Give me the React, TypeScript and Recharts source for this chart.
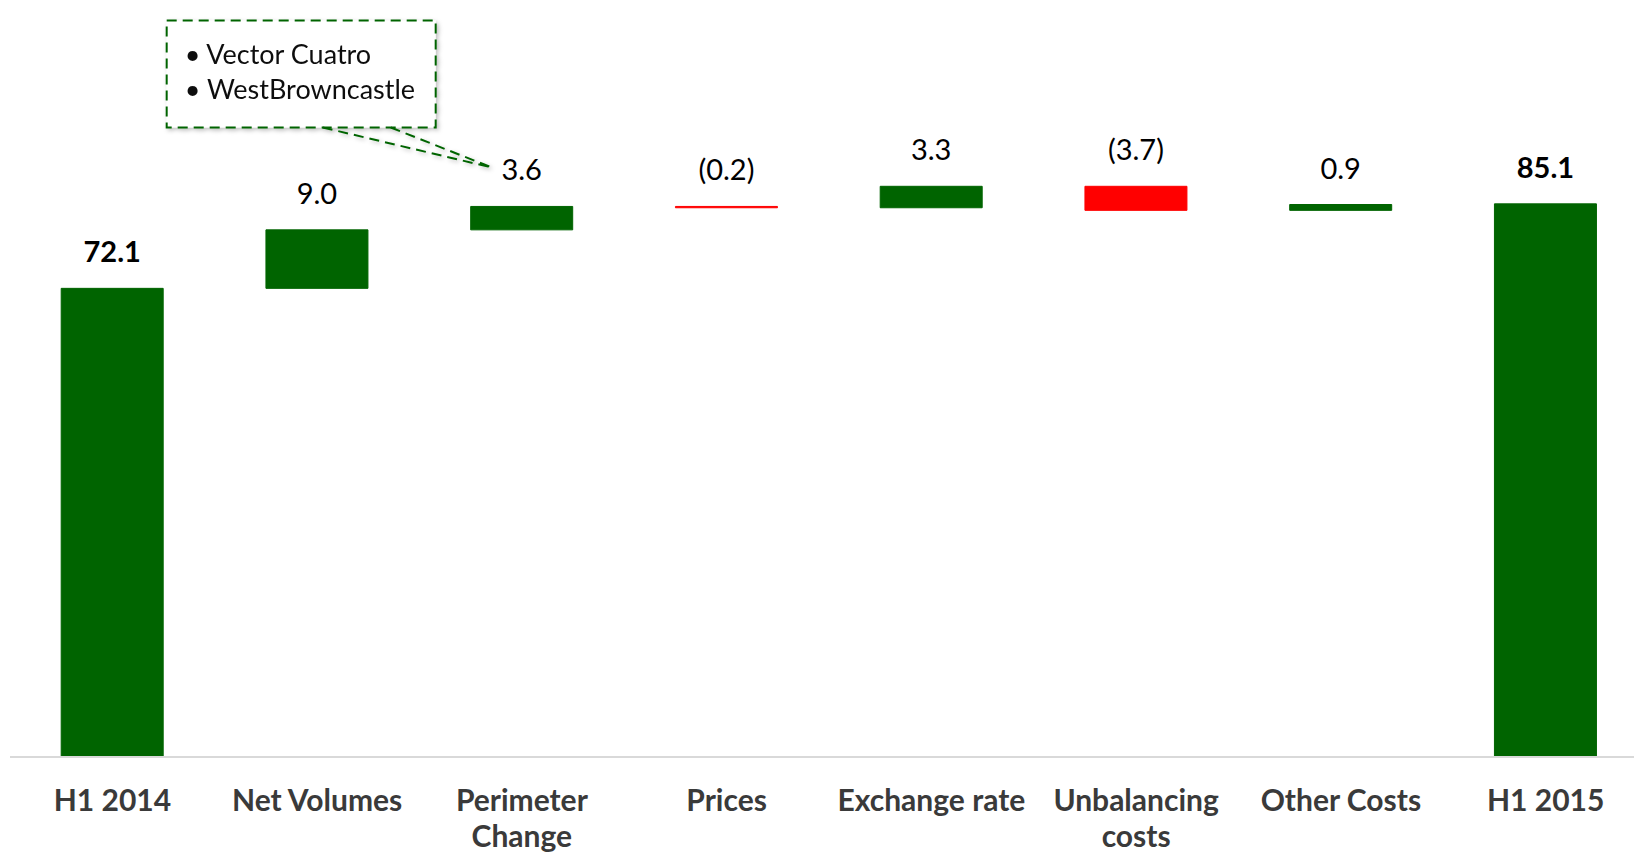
import React from 'react';
import { BarChart, Bar, XAxis, YAxis, Cell, LabelList } from 'recharts';

const categories = ['H1 2014', 'Net Volumes', 'Perimeter Change', 'Prices', 'Exchange rate', 'Unbalancing costs', 'Other Costs', 'H1 2015'];
const changes = [72.1, 9.0, 3.6, -0.2, 3.3, -3.7, 0.9, 85.1];
const isTotal = [true, false, false, false, false, false, false, true];
const valueLabels = ['72.1', '9.0', '3.6', '(0.2)', '3.3', '(3.7)', '0.9', '85.1'];
const tickLabels = [
  ['H1 2014'],
  ['Net Volumes'],
  ['Perimeter', 'Change'],
  ['Prices'],
  ['Exchange rate'],
  ['Unbalancing', 'costs'],
  ['Other Costs'],
  ['H1 2015'],
];
const calloutItems = ['Vector Cuatro', 'WestBrowncastle'];
const calloutIndex = 2;

const GREEN = '#006400';
const RED = '#ff0000';
const FONT = 'Lato, "Open Sans", sans-serif';

// running totals -> invisible base + visible delta
let running = 0;
const data = categories.map((name, i) => {
  let base: number;
  let delta: number;
  if (isTotal[i]) {
    base = 0;
    delta = changes[i];
    running = changes[i];
  } else {
    const next = running + changes[i];
    base = Math.min(running, next);
    delta = Math.abs(changes[i]);
    running = next;
  }
  return { name, base, delta, label: valueLabels[i], color: changes[i] < 0 ? RED : GREEN };
});

function CategoryTick(props: any) {
  const { x, y, payload } = props;
  const lines = tickLabels[categories.indexOf(payload.value)] || [payload.value];
  return (
    <text x={x} y={y} textAnchor="middle" fill="#3a3a3a" fontFamily={FONT} fontWeight={700} fontSize={30}>
      {lines.map((l: string, k: number) => (
        <tspan key={k} x={x} dy={k === 0 ? 52 : 36}>{l}</tspan>
      ))}
    </text>
  );
}

function Callout({ cx, cy }: { cx: number; cy: number }) {
  // box and pointer placed relative to the label it points at
  const bx = cx - 355;
  const by = cy - 150;
  const bw = 269;
  const bh = 107;
  const tipX = cx - 30;
  const tipY = cy - 3;
  return (
    <g filter="url(#softShadow)">
      <rect x={bx} y={by} width={bw} height={bh} fill="#fff" stroke={GREEN} strokeWidth={2} strokeDasharray="10 6" />
      <line x1={cx - 199} y1={by + bh} x2={tipX} y2={tipY} stroke={GREEN} strokeWidth={2} strokeDasharray="10 6" />
      <line x1={cx - 131} y1={by + bh} x2={tipX} y2={tipY} stroke={GREEN} strokeWidth={2} strokeDasharray="10 6" />
      {calloutItems.map((t, k) => (
        <text key={t} x={bx + 18} y={by + 44 + k * 35} fontFamily={FONT} fontSize={27} fill="#111">
          {'\u2022 ' + t}
        </text>
      ))}
    </g>
  );
}

function ValueLabel(props: any) {
  const { x, y, width, index } = props;
  const cx = x + width / 2;
  const cy = y - 36;
  return (
    <g>
      {index === calloutIndex && <Callout cx={cx} cy={cy} />}
      <text
        x={cx}
        y={cy + 10}
        textAnchor="middle"
        fontFamily={FONT}
        fontSize={29}
        fontWeight={isTotal[index] ? 700 : 400}
        fill="#000"
      >
        {valueLabels[index]}
      </text>
    </g>
  );
}

export default function App() {
  return (
    <div style={{ position: 'fixed', left: 0, top: 0, width: 1634, height: 853, overflow: 'hidden', background: '#fff' }}>
      <BarChart width={1660} height={853} data={data} margin={{ top: 107, right: 12, left: 10, bottom: 66 }} barCategoryGap="25%">
        <defs>
          <filter id="softShadow" x="-10%" y="-10%" width="130%" height="140%">
            <feDropShadow dx={2} dy={2} stdDeviation={2} floodColor="#000" floodOpacity={0.25} />
          </filter>
        </defs>
        <XAxis
          dataKey="name"
          interval={0}
          tickSize={0}
          tickLine={false}
          axisLine={{ stroke: '#d9d9d9', strokeWidth: 2 }}
          tick={<CategoryTick />}
        />
        <YAxis hide domain={[0, 100]} />
        <Bar dataKey="base" stackId="w" fill="transparent" isAnimationActive={false} />
        <Bar dataKey="delta" stackId="w" isAnimationActive={false}>
          {data.map((d, i) => (
            <Cell key={i} fill={d.color} stroke={d.color} strokeWidth={1} />
          ))}
          <LabelList dataKey="label" content={<ValueLabel />} />
        </Bar>
      </BarChart>
    </div>
  );
}
